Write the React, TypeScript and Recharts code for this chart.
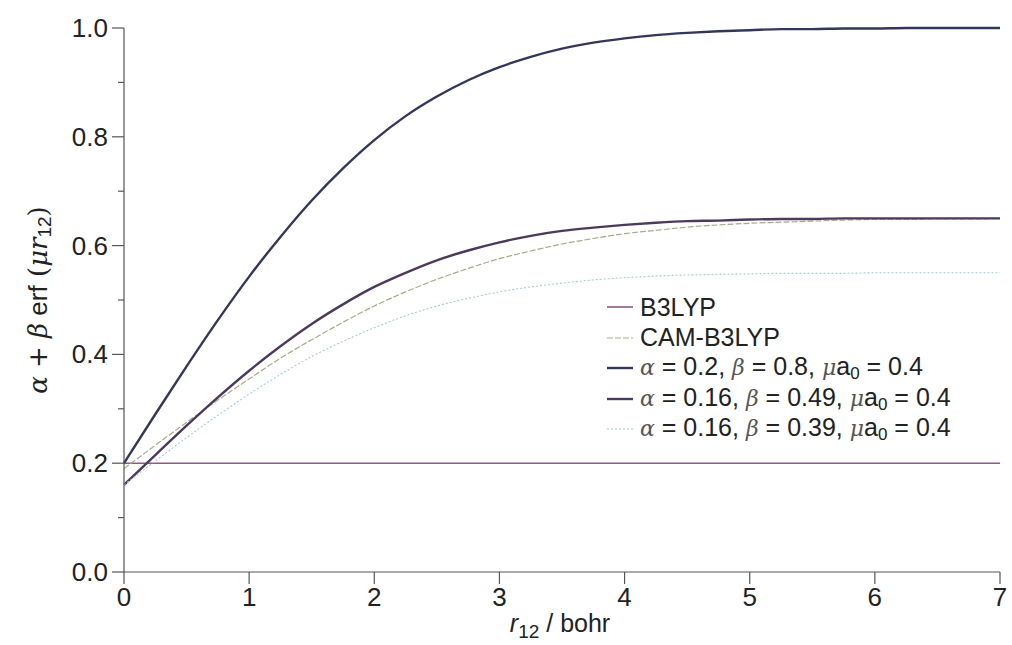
import React from "react";
import { Line, LineChart, XAxis, YAxis, Label } from "recharts";

// r12 in bohr, sampled every 0.25
const r12 = [
  0, 0.25, 0.5, 0.75, 1, 1.25, 1.5, 1.75, 2, 2.25, 2.5, 2.75, 3, 3.25, 3.5, 3.75, 4, 4.25, 4.5, 4.75, 5, 5.25,
  5.5, 5.75, 6, 6.25, 6.5, 6.75, 7,
];

const b3lyp = [
  0.2, 0.2, 0.2, 0.2, 0.2, 0.2, 0.2, 0.2, 0.2, 0.2, 0.2, 0.2, 0.2, 0.2, 0.2, 0.2, 0.2, 0.2, 0.2, 0.2, 0.2, 0.2,
  0.2, 0.2, 0.2, 0.2, 0.2, 0.2, 0.2,
];
const camB3lyp = [
  0.19, 0.233, 0.275, 0.316, 0.355, 0.393, 0.427, 0.459, 0.489, 0.515, 0.538, 0.558, 0.576, 0.59, 0.603, 0.613,
  0.622, 0.628, 0.634, 0.638, 0.641, 0.643, 0.645, 0.647, 0.648, 0.648, 0.649, 0.649, 0.65,
];
const fitA = [
  0.2, 0.29, 0.378, 0.463, 0.543, 0.616, 0.683, 0.742, 0.794, 0.838, 0.874, 0.904, 0.928, 0.947, 0.962, 0.973,
  0.981, 0.987, 0.991, 0.994, 0.996, 0.998, 0.998, 0.999, 0.999, 1.0, 1.0, 1.0, 1.0,
];
const fitB = [
  0.16, 0.215, 0.269, 0.321, 0.37, 0.415, 0.456, 0.492, 0.524, 0.55, 0.573, 0.591, 0.606, 0.618, 0.627, 0.633,
  0.638, 0.642, 0.645, 0.646, 0.648, 0.649, 0.649, 0.65, 0.65, 0.65, 0.65, 0.65, 0.65,
];
const fitC = [
  0.16, 0.204, 0.247, 0.288, 0.327, 0.363, 0.396, 0.424, 0.449, 0.471, 0.489, 0.503, 0.515, 0.524, 0.531, 0.537,
  0.541, 0.544, 0.546, 0.547, 0.548, 0.549, 0.549, 0.549, 0.55, 0.55, 0.55, 0.55, 0.55,
];

const xTicks = [0, 1, 2, 3, 4, 5, 6, 7];
const yTicks = [0, 0.1, 0.2, 0.3, 0.4, 0.5, 0.6, 0.7, 0.8, 0.9, 1.0];
const yMajor = [0, 0.2, 0.4, 0.6, 0.8, 1.0];

const data = r12.map((r, i) => ({
  r,
  b3lyp: b3lyp[i],
  cam: camB3lyp[i],
  fitA: fitA[i],
  fitB: fitB[i],
  fitC: fitC[i],
}));

const SANS = '"Liberation Sans", Arial, sans-serif';
const SERIF = '"DejaVu Serif", "Liberation Serif", serif';
const AXIS = "#555";

const series = [
  { key: "b3lyp", color: "#8a5a86", width: 1.6, dash: undefined as string | undefined },
  { key: "cam", color: "#a9a98a", width: 1.2, dash: "6 2" },
  { key: "fitA", color: "#34365c", width: 2.4, dash: undefined },
  { key: "fitB", color: "#4c3a5e", width: 2.4, dash: undefined },
  { key: "fitC", color: "#a9cadb", width: 1.1, dash: "2 2" },
];

const gk = { fontFamily: SERIF, fontStyle: "italic" as const, fontSize: 22, color: "#555" };

function mathRow(a: string, b: string) {
  return (
    <span>
      <span style={gk}>α</span> = {a}, <span style={gk}>β</span> = {b}, <span style={gk}>μ</span>a
      <sub style={{ fontSize: 17, verticalAlign: -4 }}>0</sub> = 0.4
    </span>
  );
}

const legendLabels: React.ReactNode[] = [
  <span>B3LYP</span>,
  <span>CAM-B3LYP</span>,
  mathRow("0.2", "0.8"),
  mathRow("0.16", "0.49"),
  mathRow("0.16", "0.39"),
];

function LegendBox() {
  return (
    <div style={{ position: "absolute", left: 600, top: 292, fontFamily: SANS, fontSize: 25, color: "#222" }}>
      {series.map((s, i) => (
        <div key={s.key} style={{ display: "flex", alignItems: "center", height: 30.5, whiteSpace: "nowrap" }}>
          <svg width={34} height={10} style={{ marginRight: 6 }}>
            <line x1={7} y1={5} x2={33} y2={5} stroke={s.color} strokeWidth={s.width} strokeDasharray={s.dash} />
          </svg>
          {legendLabels[i]}
        </div>
      ))}
    </div>
  );
}

function YTick(props: any) {
  const { x, y, payload } = props;
  const v = payload.value as number;
  const major = yMajor.some((m) => Math.abs(m - v) < 1e-6);
  return (
    <g>
      <line x1={x - (major ? 12 : 6)} y1={y} x2={x} y2={y} stroke={AXIS} strokeWidth={1.2} />
      {major && (
        <text x={x - 16} y={y} dy={9} textAnchor="end" fontFamily={SANS} fontSize={26} fill="#222">
          {v.toFixed(1)}
        </text>
      )}
    </g>
  );
}

function YTitle() {
  const cx = 38;
  const cy = 300;
  return (
    <text
      x={cx}
      y={cy}
      transform={`rotate(-90 ${cx} ${cy})`}
      textAnchor="middle"
      dominantBaseline="central"
      fontSize={26}
      fill="#222"
      fontFamily={SANS}
    >
      <tspan fontFamily={SERIF} fontStyle="italic">α</tspan>
      <tspan fontFamily={SERIF}> + </tspan>
      <tspan fontFamily={SERIF} fontStyle="italic">β</tspan>
      <tspan> erf</tspan>
      <tspan fontFamily={SERIF}> (</tspan>
      <tspan fontFamily={SERIF} fontStyle="italic">μr</tspan>
      <tspan fontSize={19} dy={6}>12</tspan>
      <tspan fontFamily={SERIF} dy={-6}>)</tspan>
    </text>
  );
}

function XTitle() {
  return (
    <text x={560} y={632} textAnchor="middle" fontFamily={SANS} fontSize={25} fill="#222">
      <tspan fontStyle="italic">r</tspan>
      <tspan fontSize={19} dy={6}>12</tspan>
      <tspan dy={-6}> / bohr</tspan>
    </text>
  );
}

export default function App() {
  return (
    <div style={{ position: "absolute", left: 0, top: 0, width: 1012, height: 645, background: "#fff" }}>
      <LineChart width={1012} height={645} data={data} margin={{ top: 28, right: 12, left: 0, bottom: 0 }}>
        <XAxis
          dataKey="r"
          type="number"
          domain={[0, 7]}
          ticks={xTicks}
          height={73}
          tickSize={12}
          tickMargin={4}
          stroke={AXIS}
          tick={{ fontFamily: SANS, fontSize: 26, fill: "#222" }}
          axisLine={{ stroke: AXIS, strokeWidth: 1.2 }}
          tickLine={{ stroke: AXIS, strokeWidth: 1.2 }}
        >
          <Label content={<XTitle />} />
        </XAxis>
        <YAxis
          type="number"
          domain={[0, 1]}
          ticks={yTicks}
          width={124}
          tickSize={0}
          tickMargin={0}
          tickLine={false}
          axisLine={{ stroke: AXIS, strokeWidth: 1.2 }}
          tick={<YTick />}
          interval={0}
        >
          <Label content={<YTitle />} />
        </YAxis>
        {series.map((s) => (
          <Line
            key={s.key}
            type="monotone"
            dataKey={s.key}
            stroke={s.color}
            strokeWidth={s.width}
            strokeDasharray={s.dash}
            dot={false}
            isAnimationActive={false}
          />
        ))}
      </LineChart>
      <LegendBox />
    </div>
  );
}
